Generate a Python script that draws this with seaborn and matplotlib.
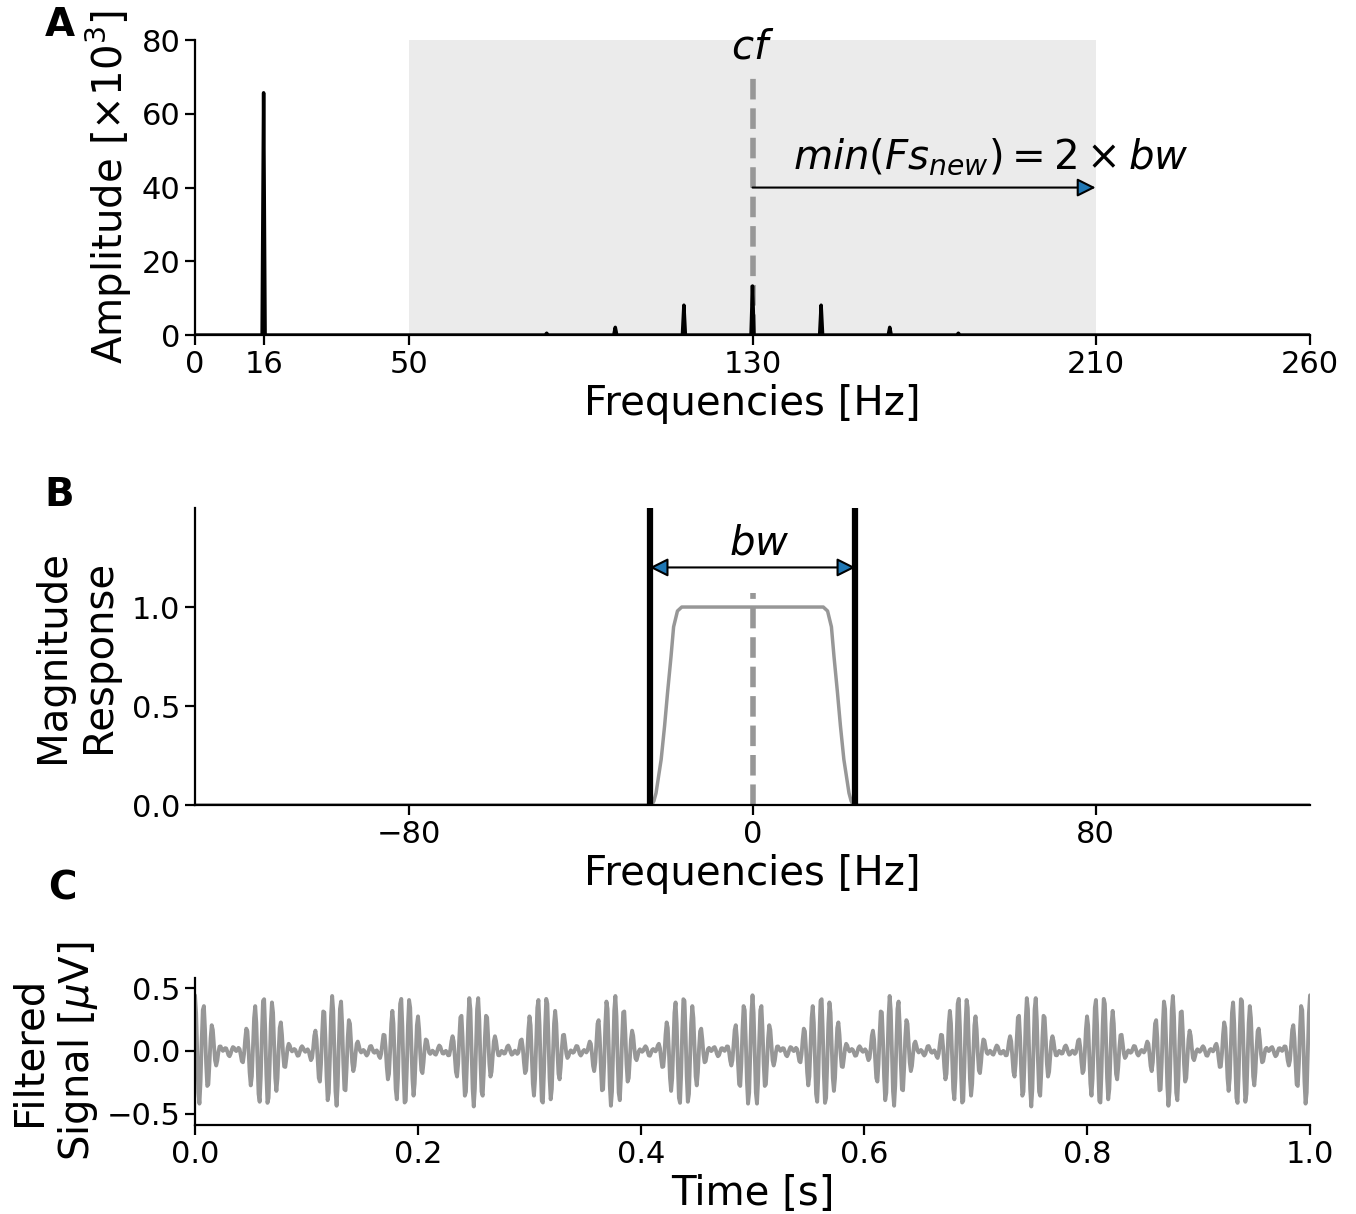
import numpy as np
import seaborn as sns
import matplotlib.pyplot as plt

# spectrum peaks (panel A), amplitude in x10^3
peak_freqs = np.array([16, 82, 98, 114, 130, 146, 162, 178])
peak_amps = np.array([65.7, 0.5, 2.1, 8.1, 13.3, 8.1, 2.1, 0.5])
cf = 130
bw = 48
span_lo, span_hi = 50, 210

# filter magnitude response (panel B)
resp_freqs = np.array([-130, -23.5, -23.0, -22.5, -21.3, -20.5, -19.8, -19.0, -18.4,
                       -17.5, -16.5, 0, 16.5, 17.5, 18.4, 19.0, 19.8, 20.5, 21.3,
                       22.5, 23.0, 23.5, 130])
resp_mag = np.array([0, 0, 0.02, 0.06, 0.23, 0.4, 0.57, 0.75, 0.9,
                     0.98, 1.0, 1.0, 1.0, 0.98, 0.9, 0.75, 0.57, 0.4, 0.23,
                     0.06, 0.02, 0, 0])

uv_per_unit = 0.015  # uV per x10^3 amplitude unit

sns.set_style('ticks')
plt.rcParams['font.family'] = ['DejaVu Sans']
plt.rcParams['axes.linewidth'] = 1.6
plt.rcParams['xtick.major.width'] = 1.6
plt.rcParams['ytick.major.width'] = 1.6
plt.rcParams['xtick.major.size'] = 7
plt.rcParams['ytick.major.size'] = 7
plt.rcParams['xtick.labelsize'] = 22
plt.rcParams['ytick.labelsize'] = 22
plt.rcParams['axes.labelsize'] = 29
for key in ['text.color', 'axes.labelcolor', 'xtick.color', 'ytick.color', 'axes.edgecolor']:
    plt.rcParams[key] = 'black'

grey = '#979797'

fig = plt.figure(figsize=(13.56, 12.14), dpi=100)
ax1 = fig.add_axes([0.1438, 0.724, 0.8223, 0.243])
ax2 = fig.add_axes([0.1438, 0.3369, 0.8223, 0.2446])
ax3 = fig.add_axes([0.1438, 0.0733, 0.8223, 0.1211])

# ---- A: spectrum
fx = [0.0]
fy = [0.0]
for f, a in zip(peak_freqs, peak_amps):
    fx += [f - 0.35, f, f + 0.35]
    fy += [0.0, a, 0.0]
fx.append(260.0)
fy.append(0.0)
ax1.axvspan(span_lo, span_hi, color='#ebebeb', lw=0, zorder=0)
ax1.vlines(cf, 0, 70, colors=grey, linestyles='--', lw=4, zorder=1)
sns.lineplot(x=fx, y=fy, ax=ax1, color='black', lw=2.5, estimator=None, zorder=2)
ax1.text(cf, 78, '$cf$', fontsize=29, ha='center', va='center')
ax1.annotate('', xy=(span_hi, 40), xytext=(cf, 40),
             arrowprops=dict(arrowstyle='-|>', fc='tab:blue', ec='black',
                             lw=1.5, mutation_scale=28, shrinkA=0, shrinkB=0))
ax1.text(185.5, 48.3, r'$min(Fs_{new}) = 2 \times bw$', fontsize=29,
         ha='center', va='center')
ax1.set_xlim(0, 260)
ax1.set_ylim(0, 80)
ax1.set_xticks([0, 16, 50, 130, 210, 260])
ax1.set_yticks([0, 20, 40, 60, 80])
ax1.set_xlabel('Frequencies [Hz]')
ax1.set_ylabel(r'Amplitude [$\times10^3$]')
ax1.yaxis.set_label_coords(-0.055, 0.5)

# ---- B: filter response
ax2.vlines(0, 0, 1.07, colors=grey, linestyles='--', lw=4, zorder=1)
sns.lineplot(x=resp_freqs, y=resp_mag, ax=ax2, color=grey, lw=2.5,
             estimator=None, sort=False, zorder=2)
ax2.axvline(-bw / 2, color='black', lw=4.5)
ax2.axvline(bw / 2, color='black', lw=4.5)
ax2.annotate('', xy=(bw / 2, 1.2), xytext=(-bw / 2, 1.2),
             arrowprops=dict(arrowstyle='<|-|>', fc='tab:blue', ec='black',
                             lw=1.5, mutation_scale=28, shrinkA=0, shrinkB=0))
ax2.text(1.5, 1.32, '$bw$', fontsize=29, ha='center', va='center')
ax2.set_xlim(-130, 130)
ax2.set_ylim(0, 1.5)
ax2.set_xticks([-80, 0, 80])
ax2.set_yticks([0, 0.5, 1.0])
ax2.set_xlabel('Frequencies [Hz]')
ax2.set_ylabel('Magnitude\nResponse')
ax2.yaxis.set_label_coords(-0.068, 0.5)

# ---- C: filtered signal, built from in-band spectrum peaks
t = np.linspace(0, 1, 1001)
gain = np.interp(peak_freqs - cf, resp_freqs, resp_mag)
sig = np.zeros_like(t)
for f, a, g in zip(peak_freqs, peak_amps, gain):
    sig += g * a * uv_per_unit * np.cos(2 * np.pi * f * t)
sns.lineplot(x=t, y=sig, ax=ax3, color=grey, lw=2.8, estimator=None)
ax3.set_xlim(0, 1)
ax3.set_ylim(-0.59, 0.58)
ax3.set_xticks([0, 0.2, 0.4, 0.6, 0.8, 1.0])
ax3.set_yticks([-0.5, 0, 0.5])
ax3.set_xlabel('Time [s]')
ax3.set_ylabel('Filtered\n' + r'Signal [$\mu$V]')
ax3.yaxis.set_label_coords(-0.085, 0.5)

for ax in (ax1, ax2, ax3):
    sns.despine(ax=ax)

fig.text(0.044, 0.979, 'A', fontsize=28, fontweight='bold', ha='center', va='center')
fig.text(0.044, 0.592, 'B', fontsize=28, fontweight='bold', ha='center', va='center')
fig.text(0.046, 0.2685, 'C', fontsize=28, fontweight='bold', ha='center', va='center')

fig.savefig('out.png', dpi=100)
